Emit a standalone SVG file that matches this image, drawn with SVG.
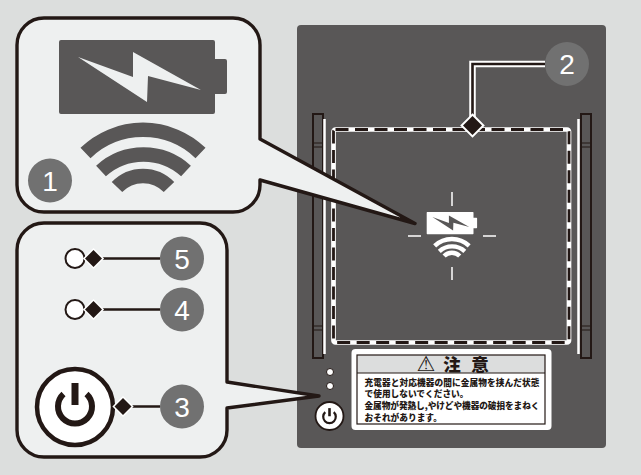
<svg xmlns="http://www.w3.org/2000/svg" xmlns:xlink="http://www.w3.org/1999/xlink" width="641" height="475" viewBox="0 0 641 475">
<style>
.callout{fill:#eef0f0;stroke:#231815;stroke-width:3.400;stroke-linejoin:round}
.badge circle{fill:#717171}
.badge text{fill:#fff;font:28px "Liberation Sans",Arial,sans-serif;text-anchor:middle}
.lw{fill:none;stroke:#fff;stroke-width:6.500}
.lb{fill:none;stroke:#231815;stroke-width:2.600}
.dia{fill:#231815;stroke:#fff;stroke-width:2;paint-order:stroke}
.led{fill:#fff;stroke:#231815;stroke-width:2}
.rail{fill:#595757;stroke:#231815;stroke-width:2}
.jp{font-family:"Noto Sans CJK JP",sans-serif;font-weight:900;fill:#231815}
.body{font-size:8.700px}
</style>
<defs>
<g id="wifi" fill="none" stroke-width="14.500">
<path d="M85.500 153A83 83 0 0 1 200.500 153"/>
<path d="M101 171A63 63 0 0 1 186 171"/>
<path d="M117 187A36 36 0 0 1 169 187"/>
</g>
<path id="batt" d="M61 40H213a2 2 0 0 1 2 2V59H225a2 2 0 0 1 2 2V92a2 2 0 0 1-2 2H215V112a2 2 0 0 1-2 2H61a2 2 0 0 1-2-2V42a2 2 0 0 1 2-2Z"/>
<path id="bolt" d="M78 57L133 77V52L201 90L148 76L147 102Z"/>
<g id="pwr" fill="none" stroke="#231815">
<path d="M-11.500 -13A17 17 0 1 0 11.500 -13" stroke-width="6"/>
<path d="M0 -24V-2" stroke-width="7"/>
</g>
</defs>
<rect width="641" height="475" fill="#dcdedd"/>
<g id="device">
<rect x="297" y="25" width="309" height="423" rx="4" fill="#595757"/>
<g id="rails">
<rect class="rail" x="313" y="114" width="10" height="244"/>
<rect class="rail" x="581" y="114" width="10" height="244"/>
<path d="M313 143H323M313 147H323M313 326H323M313 330H323M581 143H591M581 147H591M581 326H591M581 330H591" stroke="#231815" stroke-width="1"/>
<path d="M324.500 119V354M578.500 119V354" stroke="#fff" stroke-width="2.500"/>
</g>
<g id="coil" fill="none">
<rect x="333.500" y="129.500" width="235.500" height="213" rx="2" stroke="#fff" stroke-width="4.700"/>
<rect x="333.500" y="129.500" width="235.500" height="213" rx="2" stroke="#231815" stroke-width="2.800" stroke-dasharray="13 6.500"/>
</g>
<g id="indicator">
<path d="M452 192V206M452 267V280M408 236H421M483 236H496" stroke="#fff" stroke-width="1.500"/>
<g transform="translate(409 200) scale(.3)">
<use href="#batt" fill="#fff"/>
<use href="#bolt" fill="#595757"/>
<use href="#wifi" stroke="#fff"/>
</g>
</g>
<g id="panel-leds">
<circle cx="330" cy="372" r="3.500" fill="#fff" stroke="#231815"/>
<circle cx="330" cy="386" r="3.500" fill="#fff" stroke="#231815"/>
<circle cx="329.500" cy="416" r="14" fill="#fff" stroke="#231815" stroke-width="1.800"/>
<use href="#pwr" transform="translate(329.500 417) scale(.37)"/>
</g>
<g id="warning">
<rect x="351.500" y="349" width="200" height="81" rx="4" fill="#fff"/>
<rect x="357" y="355" width="188" height="18" fill="#dcdddd"/>
<rect x="357" y="355" width="188" height="69" fill="none" stroke="#231815" stroke-width="1.200"/>
<path d="M357 373H545" stroke="#231815" stroke-width="1.200"/>
<text class="jp" x="426" y="371" font-size="21" text-anchor="middle" style="font-family:'DejaVu Sans',sans-serif;font-weight:400">⚠</text>
<text class="jp" x="452" y="371" font-size="17.500" text-anchor="middle">注</text>
<text class="jp" x="480" y="371" font-size="17.500" text-anchor="middle">意</text>
<text class="jp body" x="364.500" y="385.500" textLength="175">充電器と対応機器の間に金属物を挟んだ状態</text>
<text class="jp body" x="364.500" y="397">で使用しないでください。</text>
<text class="jp body" x="364.500" y="409" textLength="175">金属物が発熱し,やけどや機器の破損をまねく</text>
<text class="jp body" x="364.500" y="421">おそれがあります。</text>
</g>
</g>
<g id="node-1">
<path class="callout" d="M44 18H233a27 27 0 0 1 27 27V139L415 223.500L260 180V185a27 27 0 0 1-27 27H44a27 27 0 0 1-27-27V45a27 27 0 0 1 27-27Z"/>
<use href="#batt" fill="#595757"/>
<use href="#bolt" fill="#eef0f0"/>
<use href="#wifi" stroke="#595757"/>
<g class="badge"><circle cx="50" cy="180.500" r="22"/><text x="50" y="190.500">1</text></g>
</g>
<g id="node-callout-2">
<path class="callout" d="M44 223H200a27 27 0 0 1 27 27V382L319 396L227 408V430a27 27 0 0 1-27 27H44a27 27 0 0 1-27-27V250a27 27 0 0 1 27-27Z"/>
</g>
<g id="connectors">
<path class="lw" d="M545 64H472.500V125"/>
<path class="lb" d="M545 64H472.500V125"/>
<path class="lb" d="M93 258.500H160M93 309.500H160M123 406.500H160"/>
</g>
<g id="node-2">
<path class="dia" d="M472.500 116L482 125.500L472.500 135L463 125.500Z" style="stroke-width:4"/>
<g class="badge"><circle cx="567" cy="64" r="22"/><text x="567" y="74">2</text></g>
</g>
<g id="node-5">
<circle class="led" cx="75" cy="258.500" r="9.500"/>
<path class="dia" d="M93.500 250L102 258.500L93.500 267L85 258.500Z" style="stroke-width:3"/>
<g class="badge"><circle cx="182" cy="258.500" r="22"/><text x="182" y="268.500">5</text></g>
</g>
<g id="node-4">
<circle class="led" cx="75" cy="309.500" r="9.500"/>
<path class="dia" d="M93.500 301L102 309.500L93.500 318L85 309.500Z" style="stroke-width:3"/>
<g class="badge"><circle cx="182" cy="309.500" r="22"/><text x="182" y="319.500">4</text></g>
</g>
<g id="node-3">
<circle cx="75" cy="407" r="38" fill="#fff" stroke="#231815" stroke-width="4.500"/>
<use href="#pwr" transform="translate(75 407)"/>
<path class="dia" d="M123 398L131.500 406.500L123 415L114.500 406.500Z" style="stroke-width:3"/>
<g class="badge"><circle cx="182" cy="406.500" r="22"/><text x="182" y="416.500">3</text></g>
</g>
</svg>
